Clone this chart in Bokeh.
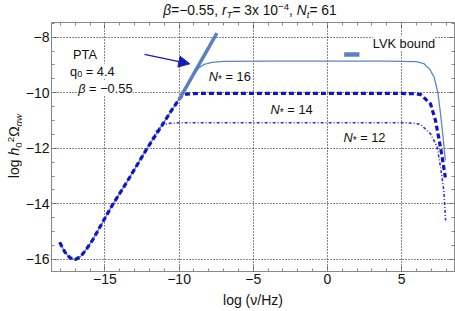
import math
from bokeh.plotting import figure
from bokeh.models import Range1d, LinearAxis, Label, Arrow, NormalHead, Div, BasicTicker
from bokeh.layouts import row, column
from bokeh.embed import file_html
from bokeh.resources import INLINE

# ---------------- data ----------------
low_x = [-18.05, -17.7, -17.35, -17.0, -16.6, -16.2, -15.8, -15.4, -15.0, -14.5, -13.5, -12.15]
low_y = [-15.39, -15.74, -15.95, -16.01, -15.88, -15.60, -15.28, -14.90, -14.52, -14.05, -13.20, -12.00]
n16_x = [-11.0, -10.5, -10.0, -9.6, -9.3, -9.0, -8.7, -8.3, -7.8, -7.0, -4.0, 0.0, 4.0, 6.0, 6.5, 6.9, 7.2, 7.45, 7.63, 7.8, 7.95]
n16_y = [-11.05, -10.63, -10.22, -9.90, -9.60, -9.33, -9.12, -8.98, -8.91, -8.87, -8.86, -8.86, -8.86, -8.88, -8.95, -9.15, -9.45, -10.00, -10.76, -11.60, -12.44]
n14_x = [-11.0, -10.5, -10.0, -9.8, -9.5, -9.0, -8.0, -4.0, 0.0, 4.0, 5.5, 6.0, 6.3, 6.95, 7.29, 7.5, 7.74, 7.95]
n14_y = [-11.05, -10.63, -10.24, -10.10, -10.05, -10.03, -10.02, -10.02, -10.02, -10.02, -10.03, -10.04, -10.07, -10.40, -11.00, -11.60, -12.32, -13.05]
n12_x = [-11.6, -11.3, -11.0, -10.6, -10.0, -5.0, 0.0, 5.0, 5.5, 6.0, 6.28, 6.95, 7.4, 7.63, 7.85, 7.97]
n12_y = [-11.45, -11.24, -11.15, -11.10, -11.08, -11.08, -11.08, -11.08, -11.09, -11.11, -11.14, -11.48, -11.96, -12.68, -13.52, -14.60]
pta_x = [-10.0, -7.45]
pta_y = [-10.25, -7.85]
arrow_from = (-12.33, -8.62)
arrow_to = (-9.28, -8.96)
lvk_x = [1.13, 2.16]
lvk_y = [-8.62, -8.62]

x_ticks = [-15, -10, -5, 0, 5]
y_ticks = [-16, -14, -12, -10, -8]

FONT = "Liberation Sans"
FRAME_C = "#888888"

p = figure(width=434, height=293, output_backend="svg", toolbar_location=None,
           x_range=Range1d(-18.6, 8.57), y_range=Range1d(-16.44, -7.47),
           min_border_left=30, min_border_right=1, min_border_top=4, min_border_bottom=40)
p.outline_line_color = FRAME_C
p.outline_line_width = 1


def style_axis(ax, ticks, n_minor, show_labels):
    ax.ticker = BasicTicker(desired_num_ticks=6, num_minor_ticks=n_minor)
    ax.axis_line_color = FRAME_C
    ax.major_tick_line_color = "#555555"
    ax.minor_tick_line_color = FRAME_C
    ax.major_tick_in = 5
    ax.major_tick_out = 0
    ax.minor_tick_in = 3
    ax.minor_tick_out = 0
    if show_labels:
        ax.major_label_overrides = {t: str(t).replace("-", "\u2212") for t in ticks}
        ax.major_label_text_font = FONT
        ax.major_label_text_font_size = "14px"
        ax.major_label_text_color = "#111111"
        ax.major_label_standoff = 2
    else:
        ax.major_label_overrides = {t: "" for t in ticks}
        ax.major_label_text_font_size = "1px"
        ax.major_label_standoff = 0

style_axis(p.xaxis[0], x_ticks, 5, True)
style_axis(p.yaxis[0], y_ticks, 4, True)
p.xaxis[0].axis_label = "log (\u03bd/Hz)"
p.xaxis[0].axis_label_text_font = FONT
p.xaxis[0].axis_label_text_font_style = "normal"
p.xaxis[0].axis_label_text_font_size = "14px"
p.xaxis[0].axis_label_text_color = "#111111"
p.xaxis[0].axis_label_standoff = 5
ax_top = LinearAxis()
style_axis(ax_top, x_ticks, 5, False)
ax_right = LinearAxis()
style_axis(ax_right, y_ticks, 4, False)
p.add_layout(ax_top, "above")
p.add_layout(ax_right, "right")

for g in (p.xgrid[0], p.ygrid[0]):
    g.grid_line_color = "#111111"
    g.grid_line_dash = "1 2"
    g.grid_line_width = 1

# curves
p.line(low_x + n12_x, low_y + n12_y, line_color="#3535dc", line_width=1.6, line_dash="3 2 1 2")
p.line(low_x + n16_x, low_y + n16_y, line_color="#5b86c6", line_width=1.3)
p.line(low_x + n14_x, low_y + n14_y, line_color="#1212c8", line_width=3.2, line_dash="5 3")
p.line(pta_x, pta_y, line_color="#5a80c0", line_width=3.5)
p.line(lvk_x, lvk_y, line_color="#5a80c0", line_width=4.5)
p.add_layout(Arrow(end=NormalHead(size=11, fill_color="#1a1ab8", line_color="#1a1ab8"),
                   x_start=arrow_from[0], y_start=arrow_from[1],
                   x_end=arrow_to[0], y_end=arrow_to[1], line_color="#1a1ab8", line_width=1.3))

# ---------------- rich text inside the frame ----------------
W = {' ': 278, '\u00a0': 278, '.': 278, ',': 278, '=': 584, '\u2212': 584, 'N': 722, 'q': 556,
     'P': 667, 'T': 611, 'A': 667, '\u03b2': 575, 'L': 556, 'V': 667, 'K': 667, 'b': 556,
     'o': 556, 'u': 556, 'n': 556, 'd': 556, '*': 389}


def tw(s, size):
    return sum(W.get(c, 556) for c in s) * size / 1000.0


def rich(x, y, parts, size, bg=None):
    off = 0.0
    for (t, it, sc, sh) in parts:
        t = t.replace(" ", "\u00a0")
        kw = dict(x=x, y=y, text=t, text_font=FONT, text_font_size=f"{size * sc:.1f}px",
                  text_font_style="italic" if it else "normal", text_color="#111111",
                  text_align="left", text_baseline="alphabetic", x_offset=off, y_offset=sh)
        if bg:
            kw["background_fill_color"] = bg
        p.add_layout(Label(**kw))
        off += tw(t, size * sc)

SUB = 0.72
ANN = 12.8
rich(-17.15, -8.62, [("PTA", False, 1, 0)], ANN, bg="white")
rich(-17.35, -9.225, [("q", False, 1, 0), ("0", False, SUB, -3), (" = 4.4", False, 1, 0)], ANN, bg="white")
rich(-16.8, -9.84, [("\u03b2", True, 1, 0), (" = \u22120.55", False, 1, 0)], ANN, bg="white")
for (nx, ny, val) in [(-8.0, -9.42, "16"), (-3.83, -10.61, "14"), (1.08, -11.63, "12")]:
    rich(nx, ny, [("N", True, 1, 0), ("*", False, 0.8, -3), (" = " + val, False, 1, 0)], ANN)
rich(3.06, -8.24, [("LVK bound", False, 1, 0)], ANN, bg="white")

# ---------------- title and y label (HTML, outside the frame) ----------------
SUBS = "font-size:70%;line-height:0;vertical-align:-0.3em"
SUPS = "font-size:70%;line-height:0;vertical-align:0.5em"
title_html = (
    "<div style=\"width:434px;height:18px;box-sizing:border-box;padding:3px 0 0 24px;"
    "text-align:center;white-space:nowrap;font-family:'Liberation Sans';font-size:13.8px;"
    "line-height:15px;color:#111\">"
    f"<i>\u03b2</i>=\u22120.55, <i>r</i><span style=\"{SUBS}\"><i>T</i></span>= 3x 10"
    f"<span style=\"{SUPS}\">\u22124</span>, <i>N</i><span style=\"{SUBS}\"><i>t</i></span>= 61</div>")
ylab_html = (
    "<div style=\"position:relative;width:21px;height:311px\">"
    "<div style=\"position:absolute;left:14px;top:146px;transform:translate(-50%,-50%) rotate(-90deg);"
    "white-space:nowrap;font-family:'Liberation Sans';font-size:14px;line-height:16px;color:#111\">"
    f"log <i>h</i><span style=\"{SUBS}\">0</span><span style=\"{SUPS}\">2</span>\u03a9"
    f"<span style=\"{SUBS}\"><i>gw</i></span></div></div>")

tdiv = Div(text=title_html, width=434, height=18, margin=(0, 0, 0, 0))
ydiv = Div(text=ylab_html, width=21, height=311, margin=(0, 0, 0, 0))
p.margin = (0, 0, 0, 0)
layout = row(ydiv, column(tdiv, p, spacing=0), spacing=0)

open("out.html", "w").write(file_html(layout, INLINE))
